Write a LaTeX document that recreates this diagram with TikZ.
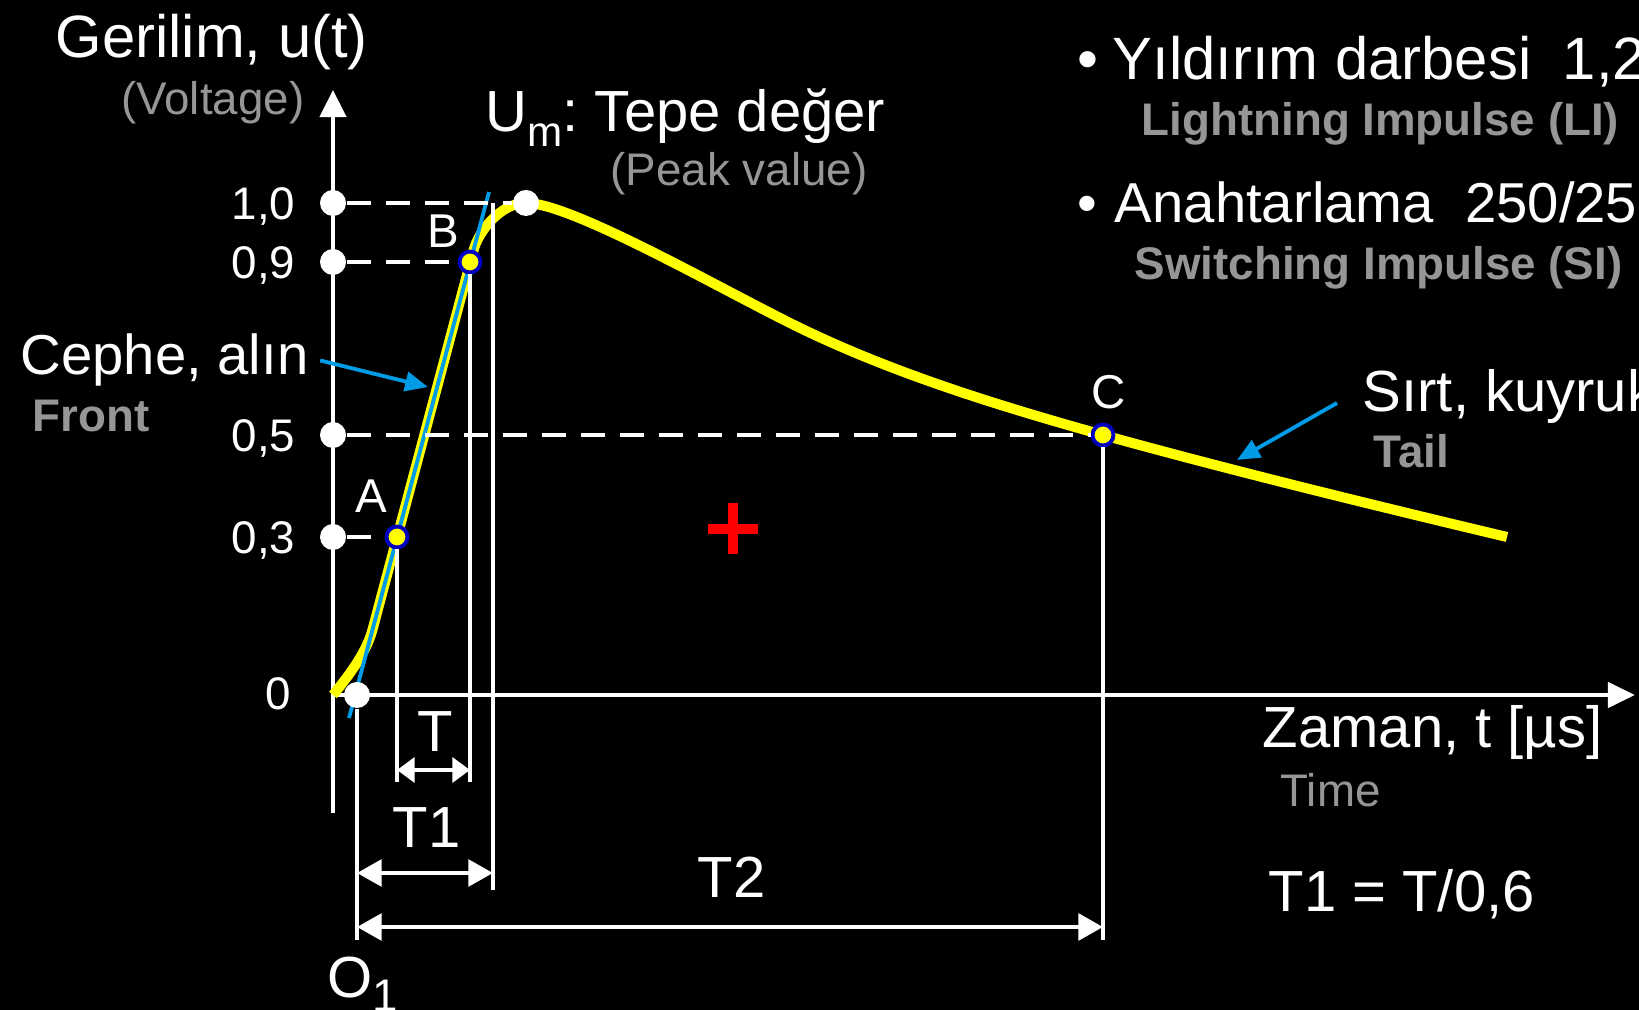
\documentclass[tikz,border=0pt]{standalone}
\usepackage{fontspec}
\setmainfont{Liberation Sans}
\usetikzlibrary{arrows.meta, positioning, calc}
\definecolor{wavey}{RGB}{255,255,0}
\definecolor{frontblue}{RGB}{0,155,230}
\definecolor{ringblue}{RGB}{0,0,190}
\definecolor{subgray}{RGB}{150,150,150}
\definecolor{crossred}{RGB}{255,0,0}
\tikzset{
  bigtxt/.style={font=\fontsize{16.5}{18}\selectfont, text=white,
    inner sep=0pt, anchor=base west},
  bullettxt/.style={font=\fontsize{16}{18}\selectfont, text=white,
    inner sep=0pt, anchor=base west},
  subtxt/.style={font=\fontsize{13}{15}\selectfont, text=subgray,
    inner sep=0pt, anchor=base west},
  subbold/.style={font=\fontsize{13}{15}\selectfont\bfseries, text=subgray,
    inner sep=0pt, anchor=base west},
  ticklbl/.style={font=\fontsize{13}{15}\selectfont, text=white,
    inner sep=0pt, anchor=base east},
  ptlbl/.style={font=\fontsize{13.5}{15}\selectfont, text=white,
    inner sep=0pt, anchor=base west},
  tickdot/.style={circle, fill=white, minimum size=0.26cm, inner sep=0pt},
  markdot/.style={circle, fill=wavey, draw=ringblue, line width=1.1pt,
    minimum size=0.21cm, inner sep=0pt},
  axisline/.style={white, line width=1.3pt},
  dashline/.style={white, line width=1.4pt, dash pattern=on 6.8pt off 4.3pt},
  dimarrow/.style={white, line width=1.3pt,
    {Triangle[length=7pt,width=7.5pt]}-{Triangle[length=7pt,width=7.5pt]}},
  smalldim/.style={white, line width=1.3pt,
    {Triangle[length=5pt,width=7pt]}-{Triangle[length=5pt,width=7pt]}},
  callout/.style={frontblue, line width=1.1pt,
    -{Triangle[length=6.5pt,width=5.5pt]}},
  wave/.style={wavey, line width=2.85pt},
  frontline/.style={frontblue, line width=1.1pt}
}
\begin{document}
\begin{tikzpicture}[x=0.01cm, y=-0.01cm]
  \useasboundingbox (0,0) rectangle (1639,1010);
  \clip (0,0) rectangle (1639,1010);
  \fill[black] (0,0) rectangle (1639,1010);
  % reference points
  \coordinate (orig) at (333,695);
  \coordinate (yTop) at (333,90);
  \coordinate (yBot) at (333,813);
  \coordinate (xEnd) at (1635,695);
  \coordinate (t1Top) at (493,203);
  \coordinate (tRow) at (0,770);
  \coordinate (tEnd) at (0,782);
  \coordinate (t1Row) at (0,873);
  \coordinate (t1End) at (0,890);
  \coordinate (t2Row) at (0,927);
  \coordinate (botEnd) at (0,940);
  \coordinate (fBot) at (349,718);
  \coordinate (fTop) at (489,192);
  \coordinate (frontTip) at (428,387);
  \coordinate (tailTip) at (1237,460);
  % axes
  \draw[axisline, -{Triangle[length=7.7pt,width=7.4pt]}] (yBot) -- (yTop);
  \draw[axisline, -{Triangle[length=7.7pt,width=7.1pt]}] (orig) -- (xEnd);
  % the impulse
  \draw[wave] (orig) .. controls (345,680) and (365.7,655) .. (372.4,630)
    -- (473.6,250) .. controls (478.4,232) and (500,203) .. (526,203)
    .. controls (570,203) and (710,283) .. (790,323)
    .. controls (890,373) and (1003,407) .. (1103,435)
    .. controls (1233,471) and (1377,506) .. (1507,537);
  \draw[frontline] (fBot) -- (fTop);
  % dots on the voltage axis
  \foreach \name/\yy/\lbl in {d10/203/{1,0}, d09/262/{0,9}, d05/435/{0,5}, d03/537/{0,3}} {
    \node[tickdot] (\name) at (333,\yy) {};
    \node[ticklbl] at (296,\yy+17) {\lbl};
  }
  \node[ticklbl] (lblZero) at (292,710) {0};
  % points on the wave
  \node[tickdot] (peak) at (526,203) {};
  \node[tickdot] (O1) at (357,695) {};
  \node[markdot] (ptA) at (397,537) {};
  \node[markdot] (ptB) at (470,262) {};
  \node[markdot] (ptC) at (1103,435) {};
  % dashed levels
  \draw[dashline] (d10) -- (peak);
  \draw[dashline] (d09) -- (ptB);
  \draw[dashline] (d05) -- (ptC);
  \draw[dashline] (d03) -- (ptA);
  % time marks
  \draw[axisline] (ptA) -- (ptA |- tEnd);
  \draw[axisline] (ptB) -- (ptB |- tEnd);
  \draw[axisline] (t1Top) -- (t1Top |- t1End);
  \draw[axisline] (ptC) -- (ptC |- botEnd);
  \draw[axisline] (O1) -- (O1 |- botEnd);
  \draw[smalldim] (ptA |- tRow) -- (ptB |- tRow);
  \draw[dimarrow] (O1 |- t1Row) -- (t1Top |- t1Row);
  \draw[dimarrow] (O1 |- t2Row) -- (ptC |- t2Row);
  % point labels
  \node[ptlbl] (lblA) at (355,513) {A};
  \node[ptlbl] (lblB) at (427,248) {B};
  \node[ptlbl] (lblC) at (1091,409) {C};
  \node[bigtxt] (lblT) at (417,752) {T};
  \node[bigtxt] (lblTone) at (392,847) {T1};
  \node[bigtxt] (lblTtwo) at (697,897) {T2};
  \node[bigtxt] (lblO) at (327,997) {O\raisebox{-4pt}{\fontsize{13}{13}\selectfont 1}};
  % axis titles
  \node[bigtxt, font=\fontsize{17}{18}\selectfont] (gerilim) at (55,58) {Gerilim, u(t)};
  \node[subtxt, anchor=base east] (voltage) at (305,115) {(Voltage)};
  \node[bigtxt] (zaman) at (1262,748) {Zaman, t [µs]};
  \node[subtxt] (timeEn) at (1280,807) {Time};
  \node[bigtxt] (t1eq) at (1268,912) {T1 = T/0,6};
  % peak value
  \node[bigtxt] (peakLbl) at (485,132)
    {U\raisebox{-4pt}{\fontsize{12}{12}\selectfont m}:~Tepe değer};
  \node[subtxt] (peakEn) at (610,186) {(Peak value)};
  % front and tail
  \node[bigtxt, font=\fontsize{16}{18}\selectfont] (cephe) at (20,375) {Cephe, alın};
  \node[subbold] (frontEn) at (32,432) {Front};
  \draw[callout] ([xshift=0.11cm]cephe.east) -- (frontTip);
  \node[bigtxt] (sirt) at (1362,412) {Sırt, kuyruk};
  \node[subbold] (tailEn) at (1373,468) {Tail};
  \draw[callout] ([shift={(-0.25cm,-0.06cm)}]sirt.west) -- (tailTip);
  % impulse types
  \node[bullettxt, font=\fontsize{17}{18}\selectfont] (bulletLI) at (1077,80)
    {•\hspace{4pt}Yıldırım darbesi\hspace{9pt}1,2};
  \node[subbold] (lblLI) at (1141,136) {Lightning Impulse (LI)};
  \node[bullettxt] (bulletSI) at (1077,223)
    {•\hspace{5pt}Anahtarlama\ \ 250/25};
  \node[subbold] (lblSI) at (1134,280) {Switching Impulse (SI)};
  % red cross
  \draw[crossred, line width=3.1pt] (708,529) -- (758,529) (733,503) -- (733,554);
\end{tikzpicture}
\end{document}
